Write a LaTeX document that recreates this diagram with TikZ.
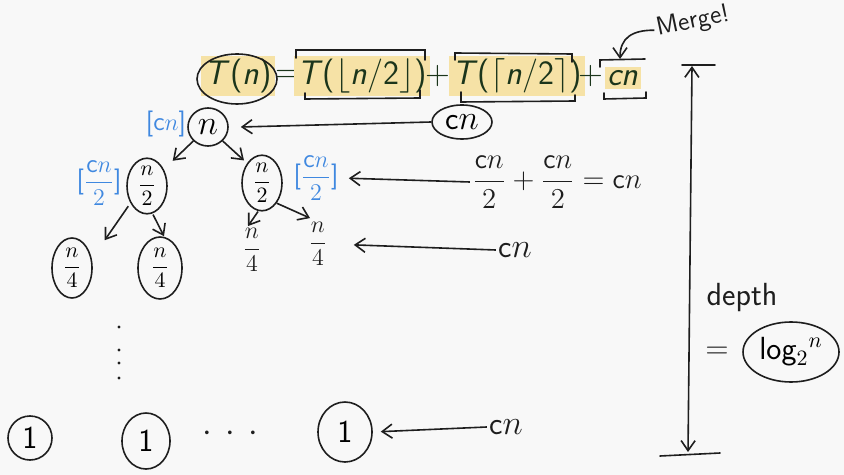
\documentclass[tikz,border=0pt]{standalone}
\usepackage{fontspec}
\usetikzlibrary{shapes.geometric,arrows.meta}
\definecolor{bgc}{HTML}{F8F8F8}
\definecolor{hlc}{HTML}{F6E2A6}
\definecolor{bluec}{HTML}{3F88E0}
\definecolor{inkc}{HTML}{1E1E1E}
\newcommand\eqsize{\fontsize{17}{20}\selectfont\sffamily}
\newcommand\hand{\fontsize{16}{19}\selectfont\sffamily}
\newcommand\handsm{\fontsize{13}{15}\selectfont\sffamily}
\newcommand\handxs{\fontsize{11}{13}\selectfont\sffamily}
\newcommand\si[1]{\textit{#1}}
\newcommand\dfr[2]{\displaystyle\frac{#1}{#2}}
\begin{document}
\begin{tikzpicture}[x=0.5pt,y=-0.5pt,
  ink/.style={draw=inkc,line width=0.8pt},
  arr/.style={ink,-{Straight Barb[length=5pt,width=7pt]}},
  eqtxt/.style={font=\eqsize,text=inkc!90!green,inner sep=1.5pt},
  hl/.style={eqtxt,fill=hlc},
  hw/.style={font=\hand,text=inkc,inner sep=1pt},
  hws/.style={font=\handsm,text=inkc,inner sep=1pt},
  bl/.style={font=\handsm,text=bluec,inner sep=1pt},
  oval/.style={ink,ellipse,inner sep=0pt},
  bracket/.style={ink,line cap=round}]
\fill[bgc] (0,0) rectangle (844,475);
\useasboundingbox (0,0) rectangle (844,475);

% equation
\node[hl] (eqT) at (238,76) {\si{T}(\si{n})};
\node[eqtxt] (eqeq) at (288,76) {=};
\node[hl] (eqA) at (362,76) {\si{T}($\lfloor$\si{n}/2$\rfloor$)};
\node[eqtxt] (eqp1) at (438,76) {+};
\node[hl] (eqB) at (517,76) {\si{T}($\lceil$\si{n}/2$\rceil$)};
\node[eqtxt] (eqp2) at (591,76) {+};
\node[hl] (eqC) at (623,78) {\si{cn}};
\node[oval,minimum width=40pt,minimum height=25pt] (cT) at (237,79) {};

% brackets
\draw[bracket] (296,58) -- (296,50) -- (425,50) -- (425,60);
\draw[bracket] (305,93) -- (305,99) -- (420,98) -- (420,90);
\draw[bracket] (455,60) -- (455,53) -- (572,54) -- (572,62);
\draw[bracket] (461,92) -- (461,102) -- (575,101) -- (575,95);
\draw[bracket] (600,67) -- (600,60) -- (645,59);
\draw[bracket] (604,93) -- (604,99) -- (646,98) -- (646,92);

% Merge!
\node[hw,rotate=12,font=\fontsize{13}{15}\selectfont\sffamily] (merge) at (693,22) {Merge!};
\coordinate (mtip) at (620,59);
\draw[arr] (merge.west) .. controls (632,30) and (620,38) .. (mtip);

% depth
\coordinate (dtop) at (692,66);
\coordinate (dbot) at (688,452);
\draw[ink,{Straight Barb[length=5pt,width=7pt]}-{Straight Barb[length=5pt,width=7pt]}] (dtop) -- (dbot);
\draw[bracket] (682,65) -- (715,65);
\draw[bracket] (660,456) -- (720,453);
\node[hw] (depth) at (742,298) {depth};
\node[hw] (deq) at (717,353) {=};
\node[oval,minimum width=48pt,minimum height=30pt] (logE) at (791,352) {\hand log$_2{}^{n}$};

% tree
\node[oval,minimum width=20pt,minimum height=19pt] (root) at (208,127) {\hand $n$};
\node[bl] (rootlab) at (166,124) {[c$n$]};
\node[oval,minimum width=30pt,minimum height=17pt] (cnE) at (462,122) {\hand c$n$};
\draw[arr] (cnE.west) -- ([xshift=6pt]root.east);

\node[oval,minimum width=20pt,minimum height=26pt] (L) at (147,186) {\handxs $\dfr{n}{2}$};
\node[oval,minimum width=20pt,minimum height=26pt] (R) at (262,183) {\handxs $\dfr{n}{2}$};
\node[bl] (Llab) at (99,183) {[$\dfr{\mathsf{c}n}{2}$]};
\node[bl] (Rlab) at (316,178) {[$\dfr{\mathsf{c}n}{2}$]};
\draw[arr] (root.south west) -- ([xshift=5.5pt,yshift=2.5pt]L.north east);
\draw[arr] (root.south east) -- ([xshift=-9pt,yshift=-3pt]R.north);
\node[hws,font=\fontsize{14}{16}\selectfont\sffamily] (sum) at (557,182) {$\dfr{\mathsf{c}n}{2}+\dfr{\mathsf{c}n}{2}=\mathsf{c}n$};
\draw[arr,shorten >=4pt] (sum.west) -- (Rlab.east);

\node[oval,minimum width=20pt,minimum height=30pt] (LL) at (72,268) {\handxs $\dfr{n}{4}$};
\node[oval,minimum width=22pt,minimum height=31pt] (LR) at (160,268) {\handxs $\dfr{n}{4}$};
\node[hws] (RL) at (252,250) {$\dfr{n}{4}$};
\node[hws] (RR) at (318,244) {$\dfr{n}{4}$};
\draw[arr] ([xshift=-2pt]L.south west) -- ([xshift=9pt,yshift=3pt]LL.north east);
\draw[arr] ([xshift=3pt]L.south) -- ([xshift=2pt]LR.north);
\draw[arr] ([xshift=-2pt]R.south) -- ([xshift=-2pt]RL.north);
\draw[arr] (R.south east) -- ([xshift=-4pt,yshift=1pt]RR.north);
\node[hw] (lev2) at (515,250) {c$n$};
\draw[arr,shorten >=12pt] (lev2.west) -- (RR.east);

% vertical dots
\foreach \yy in {327,350,363,378} \fill[inkc] (119,\yy) circle (0.8pt);

% leaves
\node[oval,minimum width=22pt,minimum height=22pt] (B1) at (30,438) {\hand 1};
\node[oval,minimum width=24pt,minimum height=28pt] (B2) at (146,441) {\hand 1};
\node[oval,minimum width=27pt,minimum height=30pt] (B3) at (345,432) {\hand 1};
\node[hw] (hdots) at (230,434) {$\cdot\,\cdot\,\cdot$};
\node[hw] (lev3) at (506,427) {c$n$};
\draw[arr,shorten >=4pt] (lev3.west) -- (B3.east);
\end{tikzpicture}
\end{document}
